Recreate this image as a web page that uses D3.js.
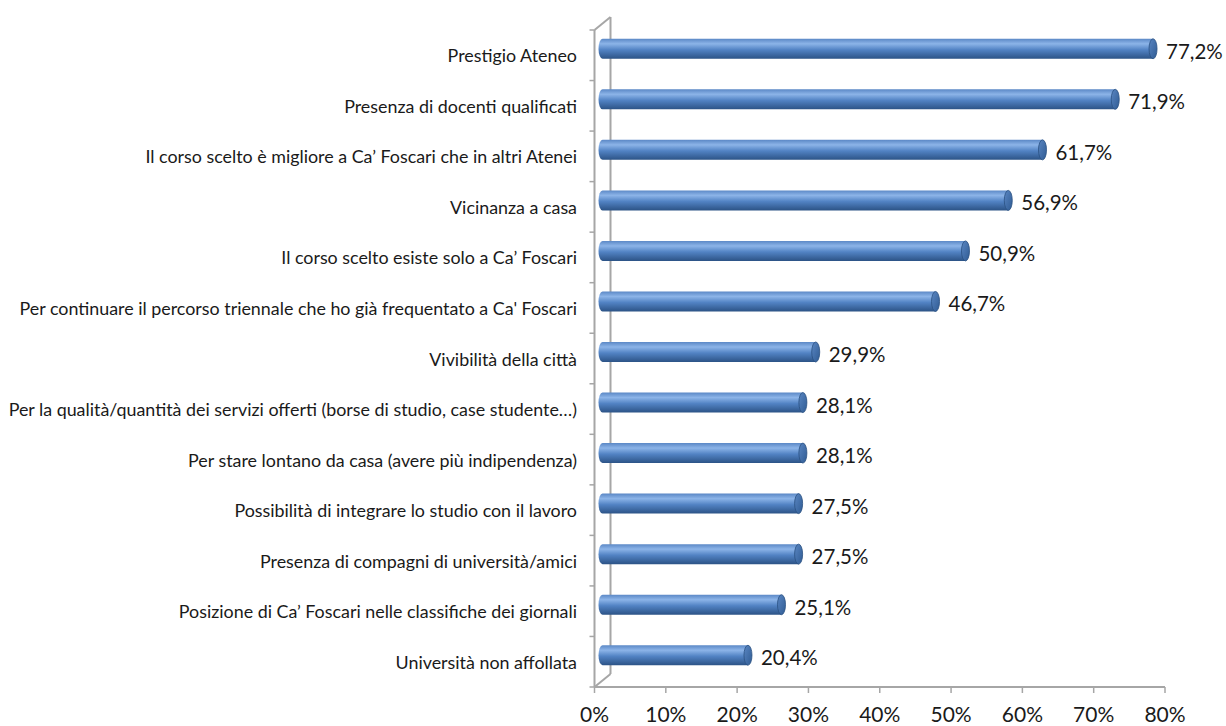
<!DOCTYPE html>
<html><head><meta charset="utf-8">
<script src="https://cdn.jsdelivr.net/npm/d3@7"></script>
<style>html,body{margin:0;padding:0;background:#fff;} svg{display:block;}</style>
</head><body>
<svg id="chart" width="1226" height="726"></svg>
<script>
const categories = [
  "Prestigio Ateneo",
  "Presenza di docenti qualificati",
  "Il corso scelto è migliore a Ca’ Foscari che in altri Atenei",
  "Vicinanza a casa",
  "Il corso scelto esiste solo a Ca’ Foscari",
  "Per continuare il percorso triennale che ho già frequentato a Ca' Foscari",
  "Vivibilità della città",
  "Per la qualità/quantità dei servizi offerti (borse di studio, case studente…)",
  "Per stare lontano da casa (avere più indipendenza)",
  "Possibilità di integrare lo studio con il lavoro",
  "Presenza di compagni di università/amici",
  "Posizione di Ca’ Foscari nelle classifiche dei giornali",
  "Università non affollata"
];
const values = [77.2, 71.9, 61.7, 56.9, 50.9, 46.7, 29.9, 28.1, 28.1, 27.5, 27.5, 25.1, 20.4];
const tickValues = [0, 10, 20, 30, 40, 50, 60, 70, 80];

const svg = d3.select("#chart");
const x = d3.scaleLinear().domain([0, 80]).range([594.5, 1165]);
const y = d3.scaleBand().domain(categories).range([30, 687]).paddingInner(0);
const depthX = 16, depthY = -13;
const dx = depthX / 2, dy = depthY / 2;
const barH = 20;
const fmt = v => d3.format(".1f")(v).replace(".", ",") + "%";
const font = "Lato, 'Open Sans', sans-serif";

const defs = svg.append("defs");
const g = defs.append("linearGradient").attr("id", "cyl").attr("x1", 0).attr("y1", 0).attr("x2", 0).attr("y2", 1);
g.append("stop").attr("offset", "0%").attr("stop-color", "#5b88c6");
g.append("stop").attr("offset", "25%").attr("stop-color", "#8cb4e8");
g.append("stop").attr("offset", "55%").attr("stop-color", "#5283c4");
g.append("stop").attr("offset", "100%").attr("stop-color", "#2c5386");
const gc = defs.append("linearGradient").attr("id", "cap").attr("x1", 0).attr("y1", 0).attr("x2", 1).attr("y2", 1);
gc.append("stop").attr("offset", "0%").attr("stop-color", "#5a86c2");
gc.append("stop").attr("offset", "100%").attr("stop-color", "#2f5b93");

const axisColor = "#a6a6a6";
const x0 = x(0), yTop = y.range()[0], yBot = y.range()[1];
svg.append("line").attr("x1", x0 + depthX).attr("x2", x0 + depthX).attr("y1", yTop + depthY).attr("y2", yBot + depthY)
  .attr("stroke", axisColor).attr("stroke-width", 2);
svg.append("line").attr("x1", x0).attr("x2", x0 + depthX).attr("y1", yTop).attr("y2", yTop + depthY)
  .attr("stroke", axisColor).attr("stroke-width", 2);
svg.append("line").attr("x1", x0).attr("x2", x0 + depthX).attr("y1", yBot).attr("y2", yBot + depthY)
  .attr("stroke", axisColor).attr("stroke-width", 2);
svg.append("line").attr("x1", x0).attr("x2", x0).attr("y1", yTop).attr("y2", yBot)
  .attr("stroke", axisColor).attr("stroke-width", 2);
const yTicks = d3.range(categories.length + 1).map(i => yTop + i * y.step());
svg.selectAll(".ytick").data(yTicks).join("line")
  .attr("x1", x0 - 5).attr("x2", x0).attr("y1", d => d).attr("y2", d => d)
  .attr("stroke", axisColor).attr("stroke-width", 1.5);
svg.append("line").attr("x1", x0).attr("x2", x(80)).attr("y1", yBot).attr("y2", yBot)
  .attr("stroke", axisColor).attr("stroke-width", 2);
svg.selectAll(".xtick").data(tickValues).join("line")
  .attr("x1", d => x(d)).attr("x2", d => x(d)).attr("y1", yBot).attr("y2", yBot + 6)
  .attr("stroke", axisColor).attr("stroke-width", 1.5);
svg.selectAll(".xlab").data(tickValues).join("text")
  .attr("x", d => x(d)).attr("y", 722)
  .attr("text-anchor", "middle")
  .style("font-family", font).style("font-size", "21px").attr("fill", "#1a1a1a")
  .text(d => d + "%");

const bars = svg.selectAll(".bar").data(categories).join("g");
bars.each(function(c, i) {
  const gg = d3.select(this);
  const cy = y(c) + y.bandwidth() / 2 + dy;
  const xs = x(0) + dx, xe = x(values[i]) + dx;
  const rx = 4;
  gg.append("path")
    .attr("d", `M${xs},${cy - barH/2} L${xe},${cy - barH/2} L${xe},${cy + barH/2} L${xs},${cy + barH/2} A${rx},${barH/2} 0 0 1 ${xs},${cy - barH/2} Z`)
    .attr("fill", "url(#cyl)");
  gg.append("ellipse").attr("cx", xe).attr("cy", cy).attr("rx", rx).attr("ry", barH / 2)
    .attr("fill", "url(#cap)").attr("stroke", "#2a5082").attr("stroke-width", 0.8);
  gg.append("text").attr("x", xe + rx + 9).attr("y", cy + 10)
    .style("font-family", font).style("font-size", "20.5px").attr("fill", "#1a1a1a")
    .text(fmt(values[i]));
});

const labels = svg.selectAll(".clab").data(categories).join("text")
  .attr("x", 577).attr("y", d => y(d) + y.bandwidth() / 2 + 7)
  .attr("text-anchor", "end")
  .style("font-family", font).style("font-size", "16px").attr("fill", "#1a1a1a")
  .text(d => d);
// size labels so the widest spans like the reference
let maxW = 0;
labels.each(function() { maxW = Math.max(maxW, this.getComputedTextLength()); });
const fs = 16 * 569 / maxW;
labels.style("font-size", fs + "px");
</script>
</body></html>
